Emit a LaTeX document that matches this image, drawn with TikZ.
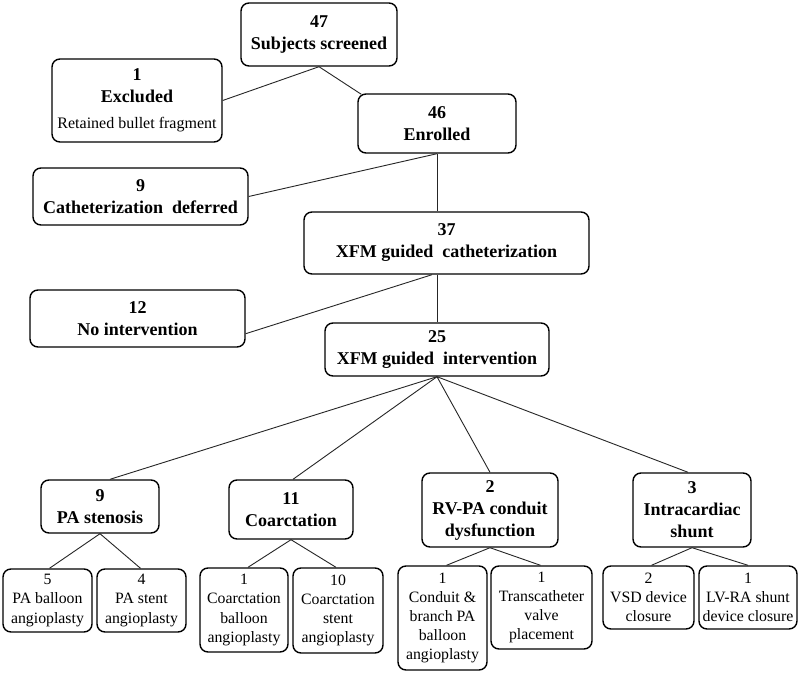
\documentclass[tikz,border=0pt]{standalone}
\usepackage{fontspec}
\setmainfont{Liberation Serif}
\usetikzlibrary{calc}
\begin{document}
\begin{tikzpicture}[x=1pt,y=-1pt,
  bx/.style={draw=black,line width=1.4pt,rounded corners=8pt,align=center,inner sep=1pt,
    font=\fontsize{18}{22}\selectfont\bfseries},
  sb/.style={draw=black,line width=1.4pt,rounded corners=8pt,align=center,inner sep=1pt,
    font=\fontsize{15.8}{19.2}\selectfont},
  ln/.style={draw=black!85,line width=0.9pt}]
\useasboundingbox (0,0) rectangle (798,676);
\fill[white] (0,0) rectangle (798,676);
% top chain
\node[bx,minimum width=156,minimum height=63] (scr) at (319,34.5) {47\\Subjects screened};
\node[bx,minimum width=170,minimum height=83] (exc) at (137,100.5) {1\\Excluded\\[4pt]{\mdseries\fontsize{16}{19}\selectfont Retained bullet fragment}};
\node[bx,minimum width=158,minimum height=59] (enr) at (437,123.5) {46\\Enrolled};
\node[bx,minimum width=215,minimum height=57] (def) at (140.5,196.5) {9\\Catheterization\ \ deferred};
\node[bx,minimum width=285,minimum height=62] (cath) at (446.5,243) {37\\XFM guided\ \ catheterization};
\node[bx,minimum width=215,minimum height=57] (noi) at (137.5,318.5) {12\\No intervention};
\node[bx,minimum width=224,minimum height=53] (int) at (437,349.5) {25\\XFM guided\ \ intervention};
% categories
\node[bx,minimum width=118,minimum height=53] (pas) at (100,506.5) {9\\PA stenosis};
\node[bx,minimum width=124,minimum height=59] (coa) at (291,509.5) {11\\Coarctation};
\node[bx,minimum width=136,minimum height=74] (rvpa) at (490,510) {2\\RV-PA conduit\\dysfunction};
\node[bx,minimum width=118,minimum height=74] (shu) at (692,510) {3\\Intracardiac\\shunt};
% sub boxes
\node[sb,minimum width=89,minimum height=63] (b1) at (47.5,600.5) {5\\PA balloon\\angioplasty};
\node[sb,minimum width=89,minimum height=63] (b2) at (141.5,600.5) {4\\PA stent\\angioplasty};
\node[sb,minimum width=88,minimum height=84] (b3) at (244,610) {1\\Coarctation\\balloon\\angioplasty};
\node[sb,minimum width=90,minimum height=85] (b4) at (338,610.5) {10\\Coarctation\\stent\\angioplasty};
\node[sb,minimum width=89,minimum height=104] (b5) at (442.5,618) {1\\Conduit \&\\branch PA\\balloon\\angioplasty};
\node[sb,minimum width=101,minimum height=83] (b6) at (541.5,607.5) {1\\Transcatheter\\valve\\placement};
\node[sb,minimum width=91,minimum height=63] (b7) at (648.5,597.5) {2\\VSD device\\closure};
\node[sb,minimum width=98,minimum height=63] (b8) at (748,597.5) {1\\LV-RA shunt\\device closure};
% connectors
\draw[ln] (scr.south) -- (exc.east);
\draw[ln] (scr.south) -- ($(enr.north west)+(4,1)$);
\draw[ln] (enr.south) -- (def.east);
\draw[ln] (enr.south) -- (enr.south |- cath.north);
\draw[ln] ($(cath.south)+(-14.5,0)$) -- ($(noi.south east)+(0,-14)$);
\draw[ln] (int.north |- cath.south) -- (int.north);
\draw[ln] (int.south) -- ($(pas.north)+(10,0)$);
\draw[ln] (int.south) -- ($(coa.north)+(2,0)$);
\draw[ln] (int.south) -- (rvpa.north);
\draw[ln] (int.south) -- ($(shu.north)+(-4,0)$);
\draw[ln] (pas.south) -- ($(b1.north)+(2,0)$);
\draw[ln] (pas.south) -- ($(b2.north)+(-1,0)$);
\draw[ln] (coa.south) -- ($(b3.north)+(4,0)$);
\draw[ln] (coa.south) -- ($(b4.north)+(-2,0)$);
\draw[ln] (rvpa.south) -- ($(b5.north)+(4,0)$);
\draw[ln] (rvpa.south) -- ($(b6.north)+(-1,0)$);
\draw[ln] (shu.south) -- ($(b7.north)+(3,0)$);
\draw[ln] (shu.south) -- (b8.north);
\end{tikzpicture}
\end{document}
